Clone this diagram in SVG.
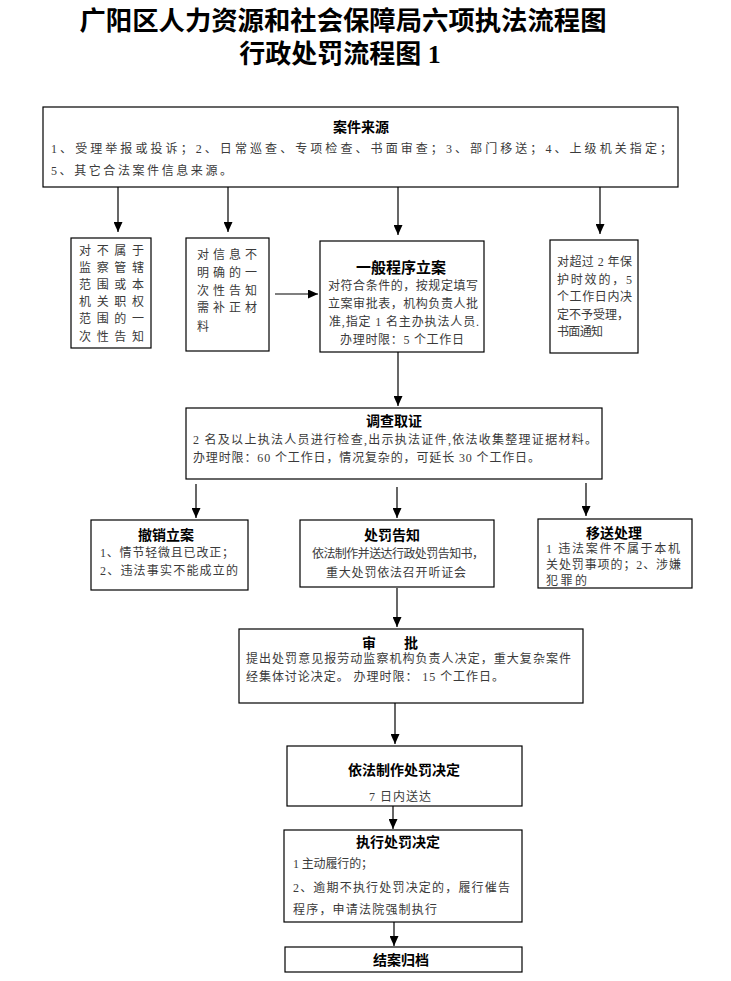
<svg xmlns="http://www.w3.org/2000/svg" width="731" height="981" viewBox="0 0 731 981">
<style>
.bg{fill:#fff}
.box{fill:#fff;stroke:#000;stroke-width:1.2}
.h{font-family:"Liberation Serif","Noto Sans CJK SC",serif;font-size:26px;font-weight:bold;fill:#000;text-anchor:middle}
.t{font-family:"Noto Sans CJK SC",sans-serif;font-size:14px;font-weight:bold;fill:#000;text-anchor:middle}
.b{font-family:"Liberation Serif","Noto Sans CJK SC",serif;font-size:12px;fill:#3a3a3a}
.c{text-anchor:middle}
.ln{stroke:#000;stroke-width:1.2;fill:none}
</style>
<defs>
<marker id="ah" markerUnits="userSpaceOnUse" markerWidth="10" markerHeight="9" refX="10" refY="4.5" orient="auto" viewBox="0 0 10 9">
<path d="M0,0 L10,4.5 L0,9 z" fill="#000"/>
</marker>
</defs>
<rect class="bg" x="0" y="0" width="731" height="981"/>
<g id="title">
<text class="h" x="343" y="30" textLength="527" lengthAdjust="spacingAndGlyphs">广阳区人力资源和社会保障局六项执法流程图</text>
<text class="h" x="340" y="63">行政处罚流程图 1</text>
</g>
<g id="connectors">
<path class="ln" d="M118,187 V232" marker-end="url(#ah)"/>
<path class="ln" d="M228,187 V232" marker-end="url(#ah)"/>
<path class="ln" d="M398,187 V235" marker-end="url(#ah)"/>
<path class="ln" d="M600,187 V234" marker-end="url(#ah)"/>
<path class="ln" d="M275,294 H318" marker-end="url(#ah)"/>
<path class="ln" d="M398,352 V406" marker-end="url(#ah)"/>
<path class="ln" d="M196,484 V518" marker-end="url(#ah)"/>
<path class="ln" d="M397,487 V518" marker-end="url(#ah)"/>
<path class="ln" d="M586,483 V516" marker-end="url(#ah)"/>
<path class="ln" d="M397,588 V627" marker-end="url(#ah)"/>
<path class="ln" d="M395,703 V744" marker-end="url(#ah)"/>
<path class="ln" d="M393,806 V829" marker-end="url(#ah)"/>
<path class="ln" d="M394,922 V946" marker-end="url(#ah)"/>
</g>
<g id="source">
<rect class="box" x="43" y="107" width="635" height="80"/>
<text class="t" x="361" y="132">案件来源</text>
<text class="b" x="51" y="153" textLength="621" lengthAdjust="spacing">1、受理举报或投诉；2、日常巡查、专项检查、书面审查；3、部门移送；4、上级机关指定；</text>
<text class="b" x="51" y="175" textLength="181" lengthAdjust="spacing">5、其它合法案件信息来源。</text>
</g>
<g id="notjuris">
<rect class="box" x="71" y="238" width="80" height="110"/>
<text class="b" x="79" y="255" textLength="65" lengthAdjust="spacing">对不属于</text>
<text class="b" x="79" y="272" textLength="65" lengthAdjust="spacing">监察管辖</text>
<text class="b" x="79" y="289" textLength="65" lengthAdjust="spacing">范围或本</text>
<text class="b" x="79" y="306" textLength="65" lengthAdjust="spacing">机关职权</text>
<text class="b" x="79" y="323" textLength="65" lengthAdjust="spacing">范围的一</text>
<text class="b" x="79" y="341" textLength="65" lengthAdjust="spacing">次性告知</text>
</g>
<g id="unclear">
<rect class="box" x="186" y="238" width="83" height="113"/>
<text class="b" x="197" y="259" textLength="60" lengthAdjust="spacing">对信息不</text>
<text class="b" x="197" y="277" textLength="60" lengthAdjust="spacing">明确的一</text>
<text class="b" x="197" y="295" textLength="60" lengthAdjust="spacing">次性告知</text>
<text class="b" x="197" y="312" textLength="60" lengthAdjust="spacing">需补正材</text>
<text class="b" x="197" y="331">料</text>
</g>
<g id="filing">
<rect class="box" x="320" y="241" width="164" height="111"/>
<text class="t" x="401" y="273" style="font-size:15px">一般程序立案</text>
<text class="b" x="328" y="290" textLength="150" lengthAdjust="spacing">对符合条件的，按规定填写</text>
<text class="b" x="328" y="308" textLength="150" lengthAdjust="spacing">立案审批表，机构负责人批</text>
<text class="b" x="329" y="326" textLength="150" lengthAdjust="spacing">准,指定 1 名主办执法人员.</text>
<text class="b c" x="402" y="344" textLength="124" lengthAdjust="spacing">办理时限：5 个工作日</text>
</g>
<g id="expired">
<rect class="box" x="550" y="240" width="88" height="113"/>
<text class="b" x="557" y="266" textLength="75" lengthAdjust="spacing">对超过 2 年保</text>
<text class="b" x="557" y="284" textLength="75" lengthAdjust="spacing">护时效的，5</text>
<text class="b" x="557" y="301" textLength="75" lengthAdjust="spacing">个工作日内决</text>
<text class="b" x="557" y="319" textLength="72" lengthAdjust="spacing">定不予受理，</text>
<text class="b" x="557" y="336" textLength="46" lengthAdjust="spacing">书面通知</text>
</g>
<g id="investigate">
<rect class="box" x="186" y="408" width="416" height="71"/>
<text class="t" x="394" y="426">调查取证</text>
<text class="b" x="193" y="444" textLength="404" lengthAdjust="spacing">2 名及以上执法人员进行检查,出示执法证件,依法收集整理证据材料。</text>
<text class="b" x="193" y="462" textLength="347" lengthAdjust="spacing">办理时限：60 个工作日，情况复杂的，可延长 30 个工作日。</text>
</g>
<g id="revoke">
<rect class="box" x="91" y="520" width="157" height="70"/>
<text class="t" x="166" y="540">撤销立案</text>
<text class="b" x="100" y="557" textLength="134" lengthAdjust="spacing">1、情节轻微且已改正；</text>
<text class="b" x="100" y="575" textLength="138" lengthAdjust="spacing">2、违法事实不能成立的</text>
</g>
<g id="notice">
<rect class="box" x="300" y="520" width="194" height="67"/>
<text class="t" x="392" y="540">处罚告知</text>
<text class="b c" x="398" y="558" textLength="172" lengthAdjust="spacing">依法制作并送达行政处罚告知书，</text>
<text class="b c" x="396" y="577" textLength="140" lengthAdjust="spacing">重大处罚依法召开听证会</text>
</g>
<g id="transfer">
<rect class="box" x="538" y="519" width="154" height="69"/>
<text class="t" x="614" y="538">移送处理</text>
<text class="b" x="546" y="553" textLength="134" lengthAdjust="spacing">1 违法案件不属于本机</text>
<text class="b" x="546" y="569" textLength="135" lengthAdjust="spacing">关处罚事项的；2、涉嫌</text>
<text class="b" x="546" y="585" textLength="41" lengthAdjust="spacing">犯罪的</text>
</g>
<g id="approve">
<rect class="box" x="239" y="629" width="344" height="74"/>
<text class="t" x="369" y="648">审</text>
<text class="t" x="411" y="648">批</text>
<text class="b" x="246" y="663" textLength="325" lengthAdjust="spacing">提出处罚意见报劳动监察机构负责人决定，重大复杂案件</text>
<text class="b" x="246" y="681" textLength="258" lengthAdjust="spacing">经集体讨论决定。 办理时限： 15 个工作日。</text>
</g>
<g id="decision">
<rect class="box" x="287" y="746" width="235" height="60"/>
<text class="t" x="404" y="775">依法制作处罚决定</text>
<text class="b c" x="400" y="801" textLength="62" lengthAdjust="spacing">7 日内送达</text>
</g>
<g id="execute">
<rect class="box" x="284" y="830" width="238" height="92"/>
<text class="t" x="398" y="847">执行处罚决定</text>
<text class="b" x="293" y="868" textLength="80" lengthAdjust="spacing">1 主动履行的；</text>
<text class="b" x="293" y="892" textLength="217" lengthAdjust="spacing">2、逾期不执行处罚决定的，履行催告</text>
<text class="b" x="293" y="914" textLength="144" lengthAdjust="spacing">程序，申请法院强制执行</text>
</g>
<g id="archive">
<rect class="box" x="285" y="947" width="237" height="25"/>
<text class="t" x="401" y="965">结案归档</text>
</g>
</svg>
